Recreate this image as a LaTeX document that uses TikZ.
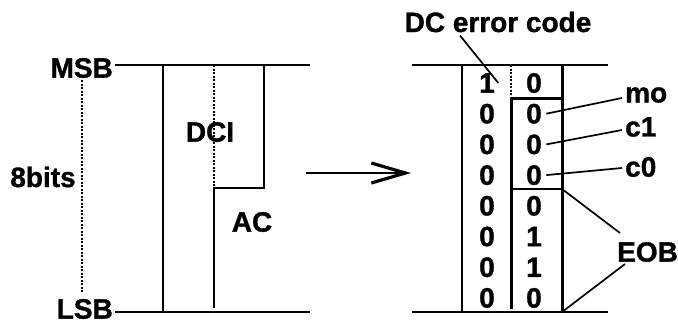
\documentclass[tikz,border=0pt]{standalone}
\usepackage{fontspec}
\setmainfont{Liberation Sans}[BoldFeatures={FakeBold=1.2}]
\usetikzlibrary{arrows.meta}

\begin{document}
\begin{tikzpicture}[x=1pt,y=-1pt,
    lbl/.style={font=\fontsize{28}{32}\selectfont\bfseries,inner sep=0pt},
    bit/.style={font=\fontsize{28}{32}\selectfont\bfseries},
    rule/.style={line width=1.8pt},
    heavy/.style={line width=3pt},
    dot/.style={line width=1.6pt,dash pattern=on 2pt off 1.5pt},
    pointer/.style={line width=1.7pt},
  ]
    \useasboundingbox (0,0) rectangle (678,324);

    % Left word
    \node[lbl,anchor=east] (msb) at (113,68) {MSB};
    \node[lbl,anchor=east] (lsb) at (113,309) {LSB};
    \node[lbl] (bits) at (43,177) {8bits};
    \draw[dot] (82,80) -- (82,293);
    \draw[rule] (115,65) -- (310,65);
    \draw[rule] (115,312) -- (310,312);
    \draw[rule] (163,65) -- (163,312);
    \draw[dot] (214,65) -- (214,188);
    \draw[rule] (214,308) -- (214,188) -- (264,188) -- (264,65);
    \node[lbl] (dci) at (210,132) {DCI};
    \node[lbl] (ac) at (252,222) {AC};

    % Arrow
    \coordinate (from) at (306,173);
    \coordinate (to) at (411,173);
    \draw[line width=1.3pt,
      -{Straight Barb[length=34pt,width=20pt,line width=3.2pt]}] (from) -- (to);

    % Right word
    \draw[rule] (412,65) -- (608,65);
    \draw[rule] (412,312) -- (608,312);
    \draw[rule] (462,65) -- (462,312);
    \draw[dot] (511,65) -- (511,98);
    \draw[heavy] (511,309) -- (511,98) -- (562,98);
    \draw[heavy] (562,65) -- (562,312);
    \draw[rule] (511,189) -- (562,189);
    \coordinate (split) at (562,189);
    \coordinate (foot) at (562,312);

    % Bits
    \foreach \a/\b [count=\i] in {1/0,0/0,0/0,0/0,0/0,0/1,0/1,0/0}{
      \node[bit] (hi-\i) at (487,{83+30.7*(\i-1)}) {\a};
      \node[bit] (lo-\i) at (534,{83+30.7*(\i-1)}) {\b};
    }

    % Labels
    \node[lbl] (dcerr) at (498,22) {DC error code};
    \node[lbl,anchor=west] (mo) at (625,95) {mo};
    \node[lbl,anchor=west] (cone) at (625,127) {c1};
    \node[lbl,anchor=west] (czero) at (625,167) {c0};
    \node[lbl,anchor=west] (eob) at (617,252) {EOB};

    \draw[pointer] ([shift={(-38,3)}]dcerr.south) -- (hi-1.east);
    \draw[pointer] ([xshift=1pt]lo-2.east) -- ([shift={(-3,3)}]mo.west);
    \draw[pointer] ([xshift=1pt]lo-3.east) -- ([shift={(-3,3)}]cone.west);
    \draw[pointer] ([xshift=1pt]lo-4.east) -- ([shift={(-3,1)}]czero.west);
    \draw[pointer] (split) -- ([shift={(3,-19)}]eob.west);
    \draw[pointer] (foot) -- ([shift={(8,12)}]eob.west);

  \end{tikzpicture}
\end{document}
